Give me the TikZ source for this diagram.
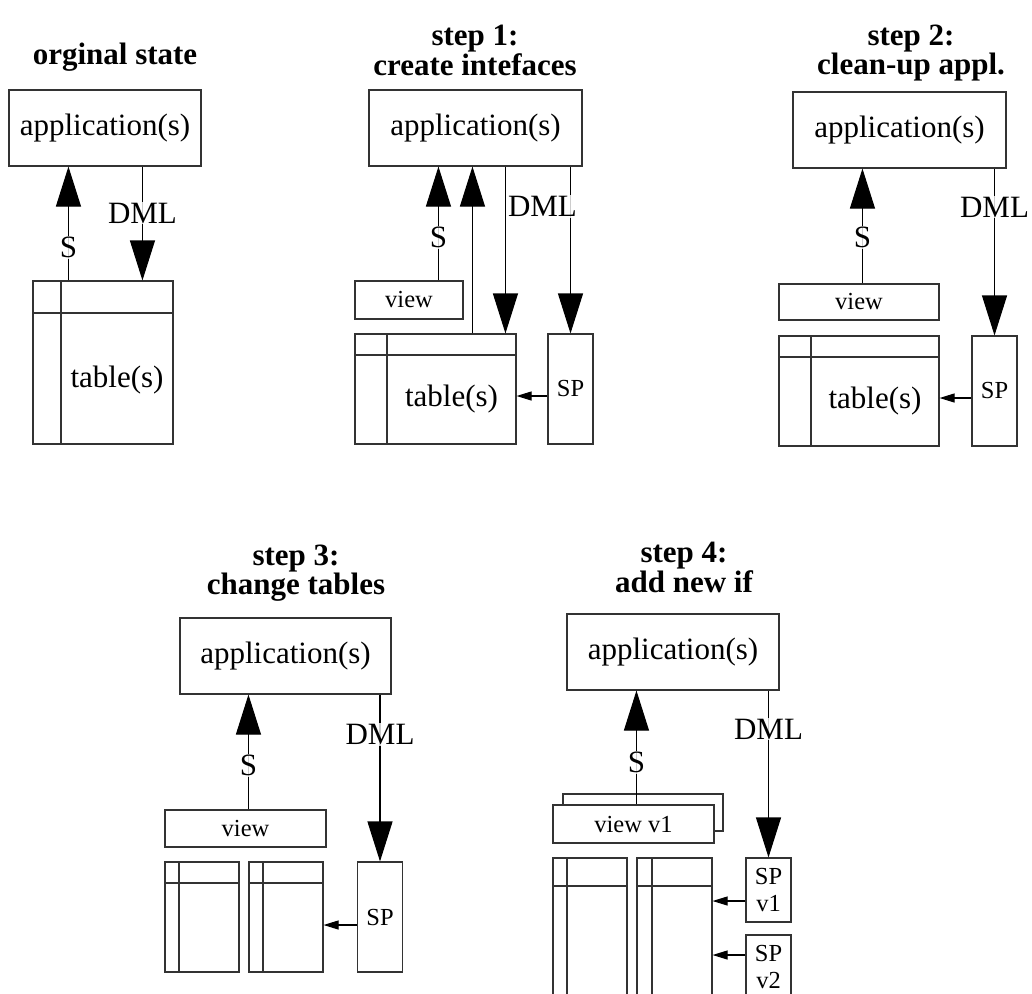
\documentclass[tikz,border=0pt]{standalone}
\usepackage{fontspec}
\setmainfont{Liberation Serif}
\usetikzlibrary{arrows.meta,calc,positioning}

\newcommand\bigsize{\fontsize{31}{34}\selectfont}
\newcommand\smallsize{\fontsize{24.5}{27}\selectfont}
\newcommand\headsize{\fontsize{31}{28}\selectfont\bfseries}

\begin{document}
\begin{tikzpicture}[x=1pt, y=-1pt,
    box/.style={rectangle, draw=black!80, line width=1.1pt, fill=white, inner sep=0pt},
    appbox/.style={box, minimum height=76pt, font=\bigsize},
    viewbox/.style={box, minimum height=37pt, font=\smallsize},
    spbox/.style={box, minimum width=45pt, font=\smallsize, align=center},
    tablebox/.style 2 args={box, path picture={
        \draw[black!80, line width=1.1pt] ([xshift=#1]path picture bounding box.north west) -- ([xshift=#1]path picture bounding box.south west);
        \draw[black!80, line width=1.1pt] ([yshift=-#2]path picture bounding box.north west) -- ([yshift=-#2]path picture bounding box.north east);}},
    head/.style={font=\headsize, align=center, inner sep=0pt},
    lbl/.style={fill=white, fill opacity=.8, text opacity=1, font=\bigsize, inner sep=1pt},
    flow/.style={line width=1.1pt, -{Triangle[length=40pt,width=25pt]}},
    call/.style={line width=1.1pt, -{Triangle[length=15pt,width=9pt]}}]
\useasboundingbox (0,0) rectangle (1032,993);
\clip (0,0) rectangle (1032,993);

% orginal state
\node[head, anchor=north] (head0) at (115,43) {orginal state};
\node[appbox, minimum width=192pt] (app0) at (105,128) {application(s)};
\node[tablebox={28pt}{32pt}, minimum width=140pt, minimum height=163pt] (tab0) at (103,362.5) {};
\node[font=\bigsize] (tab0txt) at (117,380) {table(s)};
\coordinate (s0) at ([xshift=36pt]tab0.north west);
\coordinate (d0) at ([xshift=134pt]app0.south west);
\draw[flow] (s0) -- node[lbl, pos=.29] {S} (s0 |- app0.south);
\draw[flow] (d0) -- node[lbl, pos=.41] {DML} (d0 |- tab0.north);

% step 1
\node[head, anchor=north] (head1) at (475,25) {step 1:\\create intefaces};
\node[appbox, minimum width=213pt] (app1) at (475.5,128) {application(s)};
\node[viewbox, minimum width=108pt, minimum height=38pt] (view1) at (409,300) {view};
\node[tablebox={32pt}{21pt}, minimum width=161pt, minimum height=110pt] (tab1) at (435.5,389) {};
\node[font=\bigsize] (tab1txt) at (451.5,399) {table(s)};
\node[spbox, minimum height=110pt] (sp1) at (570.5,389) {SP};
\coordinate (s1) at ([xshift=84pt]view1.north west);
\coordinate (t1) at ([xshift=118pt]tab1.north west);
\coordinate (d1) at ([xshift=137pt]app1.south west);
\coordinate (c1) at ([yshift=-7pt]sp1.west);
\draw[flow] (s1) -- node[lbl, pos=.38] {S} (s1 |- app1.south);
\draw[flow] (t1) -- (t1 |- app1.south);
\draw[flow] (sp1.north |- app1.south) -- (sp1.north);
\draw[flow] (d1) -- node[lbl, pos=.24, xshift=37pt] {DML} (d1 |- tab1.north);
\draw[call] (c1) -- (c1 -| tab1.east);

% step 2
\node[head, anchor=north] (head2) at (911,25) {step 2:\\clean-up appl.};
\node[appbox, minimum width=213pt] (app2) at (899.5,130) {application(s)};
\node[viewbox, minimum width=160pt, minimum height=36pt] (view2) at (859,302) {view};
\node[tablebox={32pt}{21pt}, minimum width=160pt, minimum height=110pt] (tab2) at (859,391) {};
\node[font=\bigsize] (tab2txt) at (875,401) {table(s)};
\node[spbox, minimum height=110pt] (sp2) at (994.5,391) {SP};
\coordinate (s2) at ([xshift=84pt]view2.north west);
\coordinate (c2) at ([yshift=-7pt]sp2.west);
\draw[flow] (s2) -- node[lbl, pos=.40] {S} (s2 |- app2.south);
\draw[flow] (sp2.north |- app2.south) -- node[lbl, pos=.23] {DML} (sp2.north);
\draw[call] (c2) -- (c2 -| tab2.east);

% step 3
\node[head, anchor=north] (head3) at (296,545) {step 3:\\change tables};
\node[appbox, minimum width=211pt] (app3) at (285.5,656) {application(s)};
\node[viewbox, minimum width=161pt] (view3) at (245.5,828.5) {view};
\node[tablebox={14pt}{21pt}, minimum width=74pt, minimum height=110pt] (tab3a) at (202,917) {};
\node[tablebox={14pt}{21pt}, minimum width=74pt, minimum height=110pt] (tab3b) at (286,917) {};
\node[spbox, minimum height=110pt] (sp3) at (380,917) {SP};
\coordinate (s3) at ([xshift=84pt]view3.north west);
\coordinate (c3) at ([yshift=-8pt]sp3.west);
\draw[flow] (s3) -- node[lbl, pos=.38] {S} (s3 |- app3.south);
\draw[flow] (sp3.north |- app3.south) -- node[lbl, pos=.24] {DML} (sp3.north);
\draw[call] (c3) -- (c3 -| tab3b.east);

% step 4
\node[head, anchor=north] (head4) at (684,542) {step 4:\\add new if};
\node[appbox, minimum width=212pt] (app4) at (673,652) {application(s)};
\node[viewbox, minimum width=160pt] (view4b) at (643,812.5) {};
\node[viewbox, minimum width=161pt, minimum height=38pt] (view4) at (633.5,824) {view v1};
\node[tablebox={14pt}{28pt}, minimum width=74pt, minimum height=152pt] (tab4a) at (590,934) {};
\node[tablebox={15pt}{28pt}, minimum width=75pt, minimum height=152pt] (tab4b) at (674.5,934) {};
\node[spbox, minimum height=64pt] (sp4a) at (768.5,890) {SP\\v1};
\node[spbox, minimum height=64pt] (sp4b) at (768.5,967) {SP\\v2};
\coordinate (s4) at ([xshift=84pt]view4.north west);
\coordinate (c4a) at ([yshift=-11pt]sp4a.west);
\coordinate (c4b) at ([yshift=12pt]sp4b.west);
\draw[flow] (s4) -- node[lbl, pos=.37] {S} (s4 |- app4.south);
\draw[flow] (sp4a.north |- app4.south) -- node[lbl, pos=.23] {DML} (sp4a.north);
\draw[call] (c4a) -- (c4a -| tab4b.east);
\draw[call] (c4b) -- (c4b -| tab4b.east);
\end{tikzpicture}
\end{document}
